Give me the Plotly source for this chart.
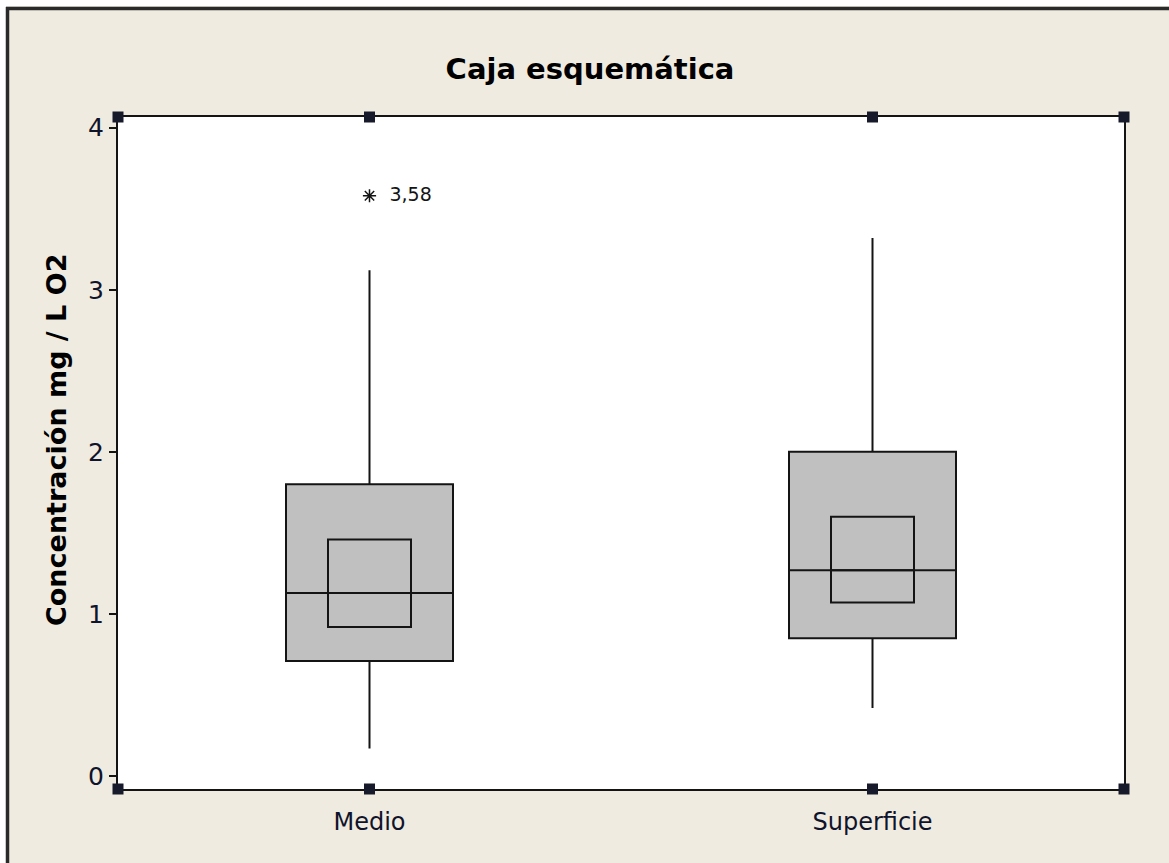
import plotly.graph_objects as go

# ---- data ----
categories = ["Medio", "Superficie"]
q1 = [0.71, 0.85]
median = [1.13, 1.27]
q3 = [1.80, 2.00]
lower_whisker = [0.17, 0.42]
upper_whisker = [3.12, 3.32]
ci_low = [0.92, 1.07]
ci_high = [1.46, 1.60]
outlier_cat = ["Medio"]
outlier_val = [3.58]
outlier_label = ["  3,58"]
y_ticks = [0, 1, 2, 3, 4]

W, H = 1169, 863
L, R, T, B = 118, 45, 117, 74
PW, PH = W - L - R, H - T - B
y_range = [-0.08, 4.066]
x_range = [-0.5, len(categories) - 0.5]

BG = "#EFEBE1"
INK = "#141414"
FONT = "DejaVu Sans"

fig = go.Figure()

for i, c in enumerate(categories):
    fig.add_trace(go.Box(
        x=[c], q1=[q1[i]], median=[median[i]], q3=[q3[i]],
        lowerfence=[lower_whisker[i]], upperfence=[upper_whisker[i]],
        width=0.332, whiskerwidth=0, boxpoints=False,
        fillcolor="#C0C0C0", line=dict(color=INK, width=2),
        showlegend=False, hoverinfo="skip"))
    fig.add_trace(go.Box(
        x=[c], q1=[ci_low[i]], median=[median[i]], q3=[ci_high[i]],
        lowerfence=[ci_low[i]], upperfence=[ci_high[i]],
        width=0.165, whiskerwidth=0, boxpoints=False,
        fillcolor="rgba(0,0,0,0)", line=dict(color=INK, width=2),
        showlegend=False, hoverinfo="skip"))

fig.add_trace(go.Scatter(
    x=outlier_cat, y=outlier_val, mode="markers+text",
    text=outlier_label, textposition="middle right",
    textfont=dict(family=FONT, size=19, color=INK),
    marker=dict(symbol="asterisk-open", size=11, color=INK,
                line=dict(color=INK, width=1.5)),
    cliponaxis=False, showlegend=False, hoverinfo="skip"))

# ---- decorations: outer window border and Minitab selection handles ----
def px_x(px):
    return (px - L) / PW

def px_y(py):
    return (H - B - py) / PH

shapes = []
shapes.append(dict(type="rect", xref="paper", yref="paper",
                   x0=px_x(0), x1=px_x(W), y0=px_y(0), y1=px_y(6),
                   fillcolor="white", line=dict(width=0), layer="above"))
shapes.append(dict(type="rect", xref="paper", yref="paper",
                   x0=px_x(0), x1=px_x(6), y0=px_y(0), y1=px_y(H),
                   fillcolor="white", line=dict(width=0), layer="above"))
shapes.append(dict(type="line", xref="paper", yref="paper",
                   x0=px_x(6), x1=px_x(W), y0=px_y(8.5), y1=px_y(8.5),
                   line=dict(color="#2a2a2a", width=3.5), layer="above"))
shapes.append(dict(type="line", xref="paper", yref="paper",
                   x0=px_x(7.5), x1=px_x(7.5), y0=px_y(7), y1=px_y(H),
                   line=dict(color="#2a2a2a", width=3.5), layer="above"))

hs = 5.5 / PW
vs = 5.5 / PH
handle_x = [0.0, 1.0] + [(k - x_range[0]) / (x_range[1] - x_range[0]) for k in range(len(categories))]
for hx in handle_x:
    for hy in (0.0, 1.0):
        shapes.append(dict(type="rect", xref="paper", yref="paper",
                           x0=hx - hs, x1=hx + hs, y0=hy - vs, y1=hy + vs,
                           fillcolor="#161a2a", line=dict(color="#161a2a", width=0),
                           layer="above"))

annotations = [dict(
    text="<b>Concentración mg / L O2</b>", xref="paper", yref="paper",
    x=px_x(56), y=px_y(440), xanchor="center", yanchor="middle",
    textangle=-90, showarrow=False,
    font=dict(family=FONT, size=27, color="#000000"))]

fig.update_layout(
    width=W, height=H,
    margin=dict(l=L, r=R, t=T, b=B, pad=0),
    paper_bgcolor=BG, plot_bgcolor="white",
    boxmode="overlay",
    title=dict(text="<b>Caja esquemática</b>", x=590 / W, xanchor="center",
               y=1 - 69 / H, yanchor="middle",
               font=dict(family=FONT, size=29, color="#000000")),
    font=dict(family=FONT, color=INK),
    shapes=shapes,
    annotations=annotations,
    xaxis=dict(range=x_range, showgrid=False, zeroline=False,
               showline=True, linecolor=INK, linewidth=2, mirror=True,
               ticks="", tickfont=dict(family=FONT, size=24, color="#10142a"),
               ticklabelstandoff=10),
    yaxis=dict(range=y_range, tickvals=y_ticks, showgrid=False, zeroline=False,
               showline=True, linecolor=INK, linewidth=2, mirror=True,
               ticks="outside", ticklen=7, tickwidth=1.5, tickcolor=INK,
               tickfont=dict(family=FONT, size=25, color="#10142a")),
)

fig.write_html("out.html")
